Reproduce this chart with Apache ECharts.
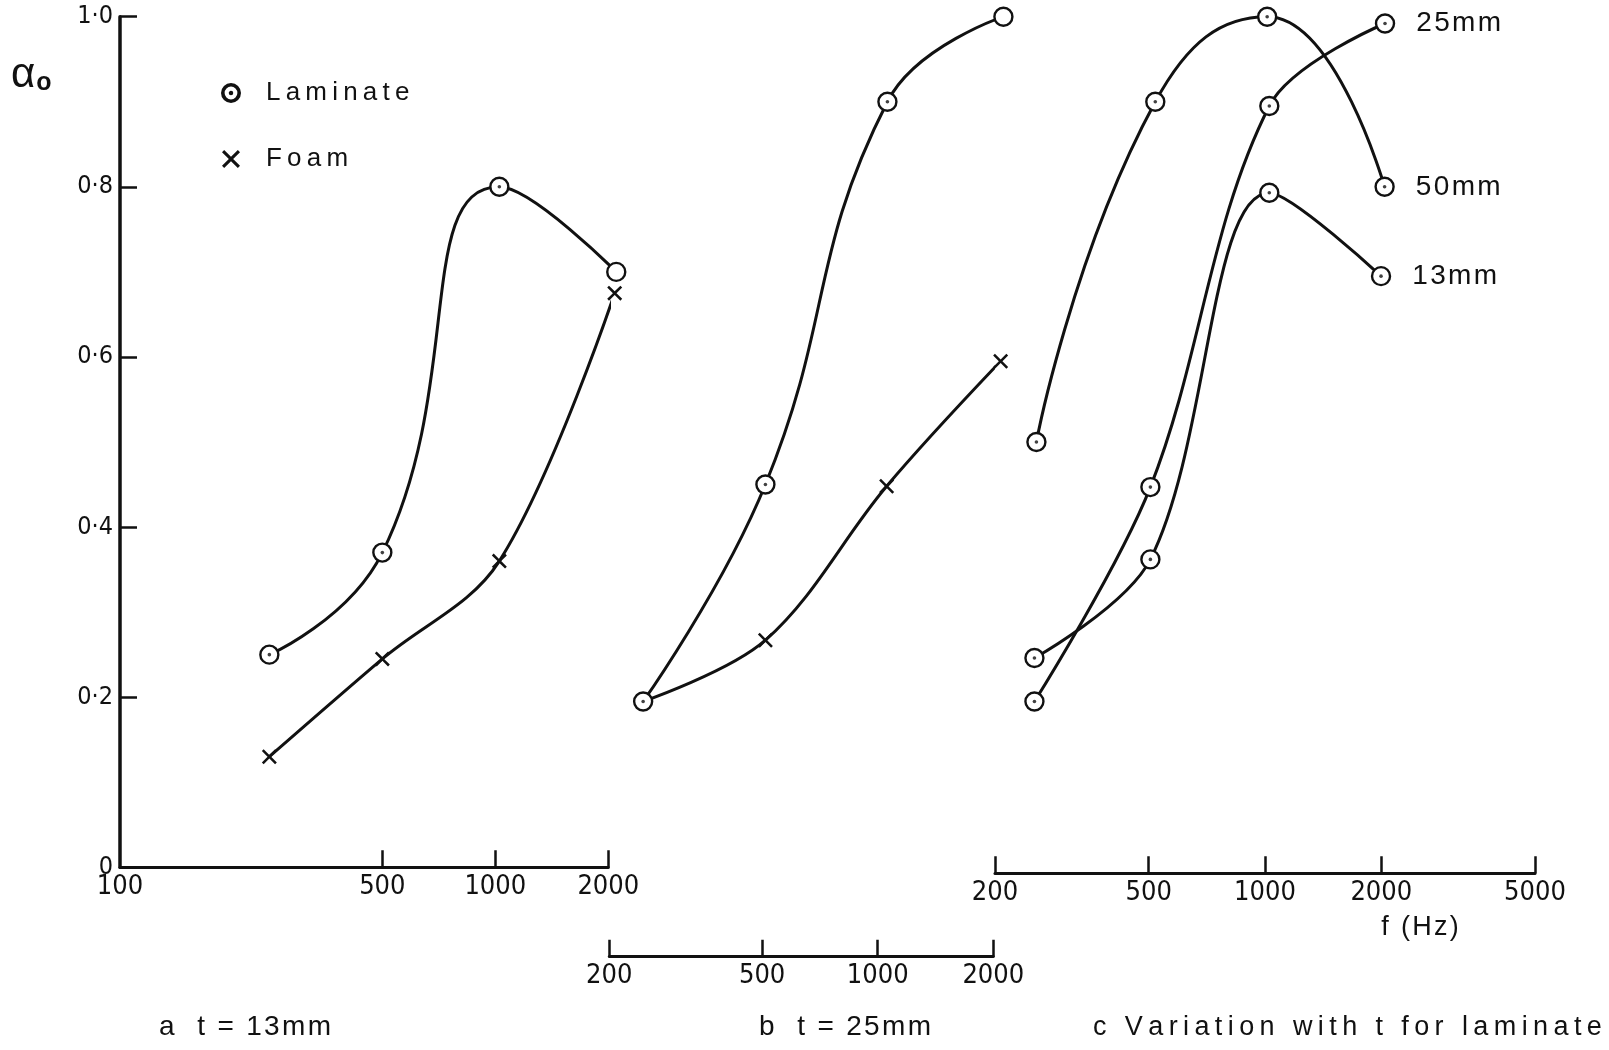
<!DOCTYPE html>
<html>
<head>
<meta charset="utf-8">
<title>Absorption coefficient of laminate and foam</title>
<script src="https://cdn.jsdelivr.net/npm/echarts@6/dist/echarts.min.js"></script>
<style>
  html, body { margin: 0; padding: 0; background: #fff; }
  #chart { width: 1609px; height: 1050px; }
</style>
</head>
<body>
<div id="chart"></div>
<script>
// ---- data: absorption coefficient alpha_0 against frequency (Hz) ----
// a  t = 13 mm
const freqLamA = [250, 500, 1025, 2100];
const lamA = [0.25, 0.37, 0.80, 0.70];
const freqFoamA = [250, 500, 1025, 2080];
const foamA = [0.13, 0.245, 0.36, 0.675];

// b  t = 25 mm
const freqLamB = [245, 510, 1060, 2125];
const lamB = [0.195, 0.45, 0.90, 1.0];
const freqFoamB = [245, 510, 1055, 2090];
const foamB = [0.195, 0.267, 0.448, 0.595];

// c  laminate, varying thickness
const freq25 = [253, 505, 1026, 2045];
const lam25 = [0.195, 0.447, 0.895, 0.992];
const freq50 = [256, 520, 1013, 2040];
const lam50 = [0.50, 0.90, 1.00, 0.80];
const freq13 = [253, 505, 1026, 1997];
const lam13 = [0.246, 0.362, 0.793, 0.695];

// axis ticks
const ticksA = [500, 1000, 2000];
const labelsA = [100, 500, 1000, 2000];
const ticksB = [200, 500, 1000, 2000];
const ticksC = [200, 500, 1000, 2000, 5000];

const INK = '#111';
const NUM_FONT = "'Liberation Sans Narrow', 'DejaVu Sans Condensed', 'Liberation Sans', sans-serif";
const TXT_FONT = "'Liberation Sans', 'DejaVu Sans', sans-serif";

const pairs = (xs, ys) => xs.map((x, i) => [x, ys[i]]);
// widen lettering by putting a narrow space between characters
const spaced = (s, gap) => s.split('').join(gap);
const HAIR = '\u200a', THIN = '\u2009';

// symbols: ring with centre dot, and a cross
const RING_DOT = 'path://M0,10A10,10 0 1,1 20,10A10,10 0 1,1 0,10Z' +
  'M1.8,10A8.2,8.2 0 1,0 18.2,10A8.2,8.2 0 1,0 1.8,10Z' +
  'M8.6,10A1.4,1.4 0 1,1 11.4,10A1.4,1.4 0 1,1 8.6,10Z';
const CROSS = 'path://M0,2.4L2.4,0L10,7.6L17.6,0L20,2.4L12.4,10L20,17.6L17.6,20L10,12.4L2.4,20L0,17.6L7.6,10Z';

const gridTop = 16.7, gridH = 850.6;

function freqAxis(gridIndex, min, max, ticks, labels, offset) {
  return {
    type: 'log', logBase: 10, gridIndex, min, max, offset,
    axisLine: { show: true, onZero: false, lineStyle: { color: INK, width: 3 } },
    axisTick: { show: true, inside: true, length: 17, lineStyle: { color: INK, width: 2.5 },
                customValues: ticks },
    axisLabel: { show: true, margin: 6, color: INK, fontFamily: NUM_FONT, fontSize: 27,
                 customValues: labels, formatter: v => String(Math.round(v)) },
    splitLine: { show: false }, minorTick: { show: false }
  };
}

function alphaAxis(gridIndex, visible) {
  return {
    type: 'value', gridIndex, min: 0, max: 1, interval: 0.2, show: visible,
    axisLine: { show: true, onZero: false, lineStyle: { color: INK, width: 3.5 } },
    axisTick: { show: true, inside: true, length: 17, lineStyle: { color: INK, width: 2.5 } },
    axisLabel: { margin: 7, color: INK, fontFamily: NUM_FONT, fontSize: 25,
                 formatter: v => v === 0 ? '0' : v.toFixed(1).replace('.', '\u00b7') },
    splitLine: { show: false }
  };
}

function curve(name, idx, xs, ys, kind, z, smooth) {
  const base = {
    type: 'line', name, xAxisIndex: idx, yAxisIndex: idx, data: pairs(xs, ys),
    smooth: smooth || 0.35, clip: false, z,
    lineStyle: { color: INK, width: 3 },
    emphasis: { disabled: true }, animation: false
  };
  if (kind === 'ring') {
    Object.assign(base, { symbol: 'circle', symbolSize: 18,
      itemStyle: { color: '#fff', borderColor: INK, borderWidth: 2.4 } });
  } else {
    Object.assign(base, { symbol: CROSS, symbolSize: 15, itemStyle: { color: INK } });
  }
  return base;
}

function dots(idx, xs, ys) {
  return { type: 'scatter', xAxisIndex: idx, yAxisIndex: idx, data: pairs(xs, ys),
           symbol: 'circle', symbolSize: 3.6, itemStyle: { color: INK }, z: 10,
           silent: true, animation: false };
}

// thickness tag beside the last point of a curve
function withEndTag(xs, ys, text) {
  return pairs(xs, ys).map((p, i) => i === xs.length - 1
    ? { value: p, label: { show: true, position: 'right', distance: 21,
        formatter: spaced(text, HAIR), color: INK, fontFamily: TXT_FONT, fontSize: 28 } }
    : { value: p });
}

// foam line in b starts from the shared laminate point (no cross drawn there)
const foamBData = pairs(freqFoamB, foamB).map((p, i) =>
  i === 0 ? { value: p, symbol: 'none' } : { value: p });

const chart = echarts.init(document.getElementById('chart'), null, { renderer: 'canvas' });

chart.setOption({
  backgroundColor: '#fff',
  animation: false,
  grid: [
    { left: 120, width: 488.3, top: gridTop, height: gridH, containLabel: false, outerBoundsMode: 'none' },
    { left: 609.3, width: 384, top: gridTop, height: gridH, containLabel: false, outerBoundsMode: 'none' },
    { left: 995, width: 540, top: gridTop, height: gridH, containLabel: false, outerBoundsMode: 'none' }
  ],
  xAxis: [
    freqAxis(0, 100, 2000, ticksA, labelsA, 0),
    freqAxis(1, 200, 2000, ticksB, ticksB, 89.4),
    freqAxis(2, 200, 5000, ticksC, ticksC, 6)
  ],
  yAxis: [alphaAxis(0, true), alphaAxis(1, false), alphaAxis(2, false)],
  legend: {
    left: 216, top: 75, orient: 'vertical', itemWidth: 18, itemHeight: 18, itemGap: 40,
    selectedMode: false,
    textStyle: { color: INK, fontFamily: TXT_FONT, fontSize: 26, lineHeight: 26,
                 padding: [0, 0, 0, 21] },
    data: [
      { name: 'Laminate', icon: RING_DOT, itemStyle: { color: INK } },
      { name: 'Foam', icon: CROSS, itemStyle: { color: INK } }
    ],
    formatter: n => spaced(n, THIN)
  },
  graphic: [
    { type: 'text', left: 11, top: 54, style: {
        text: '{a|\u03b1}{s|o}', fill: INK,
        rich: { a: { fontFamily: TXT_FONT, fontSize: 42, fill: INK },
                s: { fontFamily: TXT_FONT, fontSize: 25, fontWeight: 'bold', fill: INK, padding: [16, 0, 0, 1] } } } },
    { type: 'text', x: 1420, y: 928, style: { text: spaced('f (Hz)', HAIR), fill: INK, fontFamily: TXT_FONT,
        fontSize: 27, align: 'center', verticalAlign: 'middle' } },
    { type: 'text', x: 159, y: 1027, style: { text: spaced('a  t = 13mm', HAIR), fill: INK, fontFamily: TXT_FONT,
        fontSize: 28, verticalAlign: 'middle' } },
    { type: 'text', x: 759, y: 1027, style: { text: spaced('b  t = 25mm', HAIR), fill: INK, fontFamily: TXT_FONT,
        fontSize: 28, verticalAlign: 'middle' } },
    { type: 'text', x: 1093, y: 1028, style: { text: spaced('c Variation with t for laminate', THIN), fill: INK,
        fontFamily: TXT_FONT, fontSize: 27, verticalAlign: 'middle' } }
  ],
  series: [
    // a
    curve('Foam', 0, freqFoamA, foamA, 'cross', 2),
    curve('Laminate', 0, freqLamA, lamA, 'ring', 3, 0.5),
    dots(0, freqLamA, lamA),
    // b
    Object.assign(curve('Foam', 1, freqFoamB, foamB, 'cross', 2), { data: foamBData }),
    curve('Laminate', 1, freqLamB, lamB, 'ring', 3, 0.45),
    dots(1, freqLamB, lamB),
    // c
    Object.assign(curve('25 mm', 2, freq25, lam25, 'ring', 3), { data: withEndTag(freq25, lam25, '25mm') }),
    Object.assign(curve('50 mm', 2, freq50, lam50, 'ring', 3, 0.5), { data: withEndTag(freq50, lam50, '50mm') }),
    Object.assign(curve('13 mm', 2, freq13, lam13, 'ring', 3), { data: withEndTag(freq13, lam13, '13mm') }),
    dots(2, freq25, lam25),
    dots(2, freq50, lam50),
    dots(2, freq13, lam13)
  ]
});
</script>
</body>
</html>
